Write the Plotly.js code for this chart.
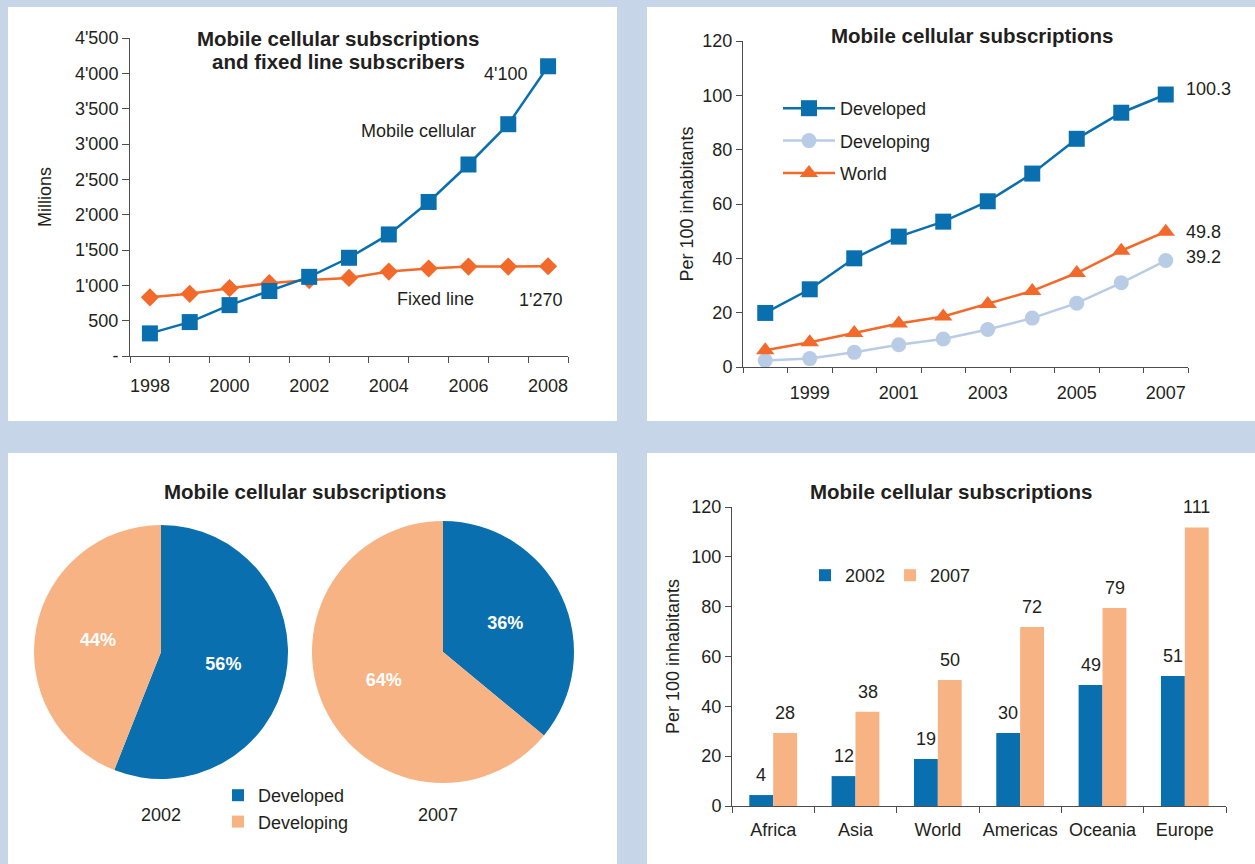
<!DOCTYPE html>
<html>
<head>
<meta charset="utf-8">
<script src="https://cdn.plot.ly/plotly-3.0.1.min.js"></script>
<style>html,body{margin:0;padding:0;background:#c6d6e8;}#chart{width:1255px;height:864px;}</style>
</head>
<body>
<div id="chart"></div>
<script>
// ---- Panel 1: world totals (millions)
const years1 = ['1998','1999','2000','2001','2002','2003','2004','2005','2006','2007','2008'];
const mobileMillions = [320, 480, 720, 920, 1120, 1390, 1720, 2180, 2710, 3280, 4100];
const fixedMillions = [830, 880, 960, 1030, 1075, 1105, 1195, 1238, 1266, 1266, 1270];
const yTicks1 = [0, 500, 1000, 1500, 2000, 2500, 3000, 3500, 4000, 4500];

// ---- Panel 2: per 100 inhabitants
const years2 = ['1998','1999','2000','2001','2002','2003','2004','2005','2006','2007'];
const developed = [19.9, 28.6, 40.0, 48.0, 53.5, 61.0, 71.2, 84.0, 93.6, 100.3];
const developing = [2.4, 3.1, 5.4, 8.2, 10.3, 13.8, 18.0, 23.5, 31.0, 39.2];
const world = [6.2, 9.1, 12.5, 16.0, 18.6, 23.2, 28.0, 34.6, 42.8, 49.8];
const yTicks2 = [0, 20, 40, 60, 80, 100, 120];

// ---- Panel 3: shares
const pieLabels = ['Developed', 'Developing'];
const share2002 = [56, 44];
const share2007 = [36, 64];

// ---- Panel 4: regions
const regions = ['Africa', 'Asia', 'World', 'Americas', 'Oceania', 'Europe'];
const sub2002 = [4.4, 12.0, 18.9, 29.3, 48.6, 52.2];
const sub2007 = [29.3, 37.8, 50.6, 71.8, 79.5, 111.8];
const label2002 = ['4', '12', '19', '30', '49', '51'];
const label2007 = ['28', '38', '50', '72', '79', '111'];

const W = 1255, H = 864;
const px = v => v / W;
const py = v => 1 - v / H;

const BLUE = '#0a6fae', ORANGE = '#f2692a', LIGHT = '#b9cce6', PEACH = '#f8b384';
const TXT = '#231f20', AX = '#4d4d4f';
const FONT = 'Liberation Sans, Arial, Helvetica, sans-serif';
const f18 = {family: FONT, size: 18, color: TXT};

function fmtApos(v) {
  if (v === 0) return '-';
  const s = String(v);
  return s.length > 3 ? s.slice(0, s.length - 3) + "'" + s.slice(s.length - 3) : s;
}

const traces = [
  {type: 'scatter', mode: 'lines+markers', x: years1, y: fixedMillions, xaxis: 'x', yaxis: 'y',
   line: {color: ORANGE, width: 2.5}, marker: {symbol: 'diamond', size: 14, color: ORANGE},
   showlegend: false, hoverinfo: 'skip', cliponaxis: false},
  {type: 'scatter', mode: 'lines+markers', x: years1, y: mobileMillions, xaxis: 'x', yaxis: 'y',
   line: {color: BLUE, width: 2.5}, marker: {symbol: 'square', size: 16, color: BLUE},
   showlegend: false, hoverinfo: 'skip', cliponaxis: false},

  {type: 'scatter', mode: 'lines+markers', name: 'Developed', x: years2, y: developed, xaxis: 'x2', yaxis: 'y2',
   line: {color: BLUE, width: 2.5}, marker: {symbol: 'square', size: 16, color: BLUE},
   legend: 'legend', legendgroup: 'a', hoverinfo: 'skip', cliponaxis: false},
  {type: 'scatter', mode: 'lines+markers', name: 'Developing', x: years2, y: developing, xaxis: 'x2', yaxis: 'y2',
   line: {color: LIGHT, width: 2.5}, marker: {symbol: 'circle', size: 15, color: LIGHT},
   legend: 'legend', legendgroup: 'b', hoverinfo: 'skip', cliponaxis: false},
  {type: 'scatter', mode: 'lines+markers', name: 'World', x: years2, y: world, xaxis: 'x2', yaxis: 'y2',
   line: {color: ORANGE, width: 2.5}, marker: {symbol: 'triangle-up', size: 16, color: ORANGE},
   legend: 'legend', legendgroup: 'c', hoverinfo: 'skip', cliponaxis: false},

  {type: 'pie', labels: pieLabels, values: share2002, sort: false, direction: 'clockwise', rotation: 0,
   domain: {x: [px(34), px(288)], y: [py(782), py(522)]},
   marker: {colors: [BLUE, PEACH], line: {width: 0}}, textinfo: 'percent', textposition: 'inside',
   insidetextorientation: 'horizontal', textfont: {family: FONT, size: 18, color: '#ffffff', weight: 'bold'},
   legend: 'legend2', hoverinfo: 'skip'},
  {type: 'pie', labels: pieLabels, values: share2007, sort: false, direction: 'clockwise', rotation: 0,
   domain: {x: [px(312), px(574)], y: [py(783), py(521)]},
   marker: {colors: [BLUE, PEACH], line: {width: 0}}, textinfo: 'percent', textposition: 'inside',
   insidetextorientation: 'horizontal', textfont: {family: FONT, size: 18, color: '#ffffff', weight: 'bold'},
   legend: 'legend2', showlegend: false, hoverinfo: 'skip'},

  {type: 'bar', name: '2002', x: regions, y: sub2002, xaxis: 'x3', yaxis: 'y3',
   marker: {color: BLUE}, legend: 'legend3', hoverinfo: 'skip'},
  {type: 'bar', name: '2007', x: regions, y: sub2007, xaxis: 'x3', yaxis: 'y3',
   marker: {color: PEACH}, legend: 'legend3', hoverinfo: 'skip'}
];

const axBase = {showline: true, linecolor: AX, linewidth: 1, ticks: 'outside', tickcolor: AX, tickwidth: 1,
  showgrid: false, zeroline: false, tickfont: f18, tickangle: 0, fixedrange: true};

const annotations = [];
function note(text, x, y, opts) {
  annotations.push(Object.assign({text: text, x: px(x), y: py(y), xref: 'paper', yref: 'paper',
    showarrow: false, font: f18, xanchor: 'center', yanchor: 'middle'}, opts || {}));
}
const boldTitle = {family: FONT, size: 20.5, color: TXT, weight: 'bold'};
note('Mobile cellular subscriptions', 338, 38, {font: boldTitle});
note('and fixed line subscribers', 338, 61, {font: boldTitle});
note('Mobile cellular subscriptions', 972, 35, {font: boldTitle});
note('Mobile cellular subscriptions', 305, 491, {font: boldTitle});
note('Mobile cellular subscriptions', 951, 491, {font: boldTitle});
note('Mobile cellular', 418, 131);
note('Fixed line', 435, 299);
note('2002', 161, 815);
note('2007', 438, 815);

// value labels tied to data (category axes addressed by index)
const last1 = years1.length - 1;
annotations.push({xref: 'x', yref: 'y', x: last1, y: mobileMillions[last1], text: fmtApos(mobileMillions[last1]),
  showarrow: false, font: f18, xanchor: 'right', yanchor: 'middle', xshift: -19, yshift: -8});
annotations.push({xref: 'x', yref: 'y', x: last1, y: fixedMillions[last1], text: fmtApos(fixedMillions[last1]),
  showarrow: false, font: f18, xanchor: 'center', yanchor: 'middle', xshift: -8, yshift: -34});
const last2 = years2.length - 1;
[[developed, 6], [world, 0], [developing, 4]].forEach(function (d) {
  annotations.push({xref: 'x2', yref: 'y2', x: last2, y: d[0][last2], text: d[0][last2].toFixed(1),
    showarrow: false, font: f18, xanchor: 'left', yanchor: 'middle', xshift: 18, yshift: d[1]});
});
regions.forEach(function (r, i) {
  annotations.push({xref: 'x3', yref: 'y3', x: i, y: sub2002[i], text: label2002[i], showarrow: false,
    font: f18, xanchor: 'center', yanchor: 'bottom', xshift: -12, yshift: 8});
  annotations.push({xref: 'x3', yref: 'y3', x: i, y: sub2007[i], text: label2007[i], showarrow: false,
    font: f18, xanchor: 'center', yanchor: 'bottom', xshift: 12, yshift: 8});
});

const panel = (x0, y0, x1, y1) => ({type: 'rect', xref: 'paper', yref: 'paper', layer: 'below',
  x0: px(x0), x1: px(x1), y0: py(y1), y1: py(y0), fillcolor: '#ffffff', line: {width: 0}});

const layout = {
  width: W, height: H, margin: {l: 0, r: 0, t: 0, b: 0},
  paper_bgcolor: '#c6d6e8', plot_bgcolor: 'rgba(0,0,0,0)',
  font: f18,
  shapes: [panel(8, 7, 617, 421), panel(647, 7, 1255, 421), panel(8, 453, 617, 864), panel(647, 453, 1255, 864)],
  annotations: annotations,
  xaxis: Object.assign({}, axBase, {domain: [px(130), px(568)], anchor: 'y', type: 'category',
    range: [-0.5, years1.length - 0.5], tickson: 'boundaries', ticklen: 6,
    tickvals: years1, ticktext: years1.map((y, i) => i % 2 === 0 ? y : ''), ticklabelstandoff: 13}),
  yaxis: Object.assign({}, axBase, {domain: [py(356), py(38)], anchor: 'x', range: [0, 4500],
    tickvals: yTicks1, ticktext: yTicks1.map(fmtApos), ticklen: 7,
    title: {text: 'Millions', font: f18, standoff: 18}}),
  xaxis2: Object.assign({}, axBase, {domain: [px(743), px(1188)], anchor: 'y2', type: 'category',
    range: [-0.5, years2.length - 0.5], tickson: 'boundaries', ticklen: 5,
    tickvals: years2, ticktext: years2.map((y, i) => i % 2 === 1 ? y : ''), ticklabelstandoff: 9}),
  yaxis2: Object.assign({}, axBase, {domain: [py(367), py(41)], anchor: 'x2', range: [0, 120],
    tickvals: yTicks2, ticklen: 6, title: {text: 'Per 100 inhabitants', font: f18, standoff: 4}}),
  xaxis3: Object.assign({}, axBase, {domain: [px(732), px(1226)], anchor: 'y3', type: 'category',
    range: [-0.5, regions.length - 0.5], tickson: 'boundaries', ticklen: 6, ticklabelstandoff: 7}),
  yaxis3: Object.assign({}, axBase, {domain: [py(806), py(507)], anchor: 'x3', range: [0, 120],
    tickvals: yTicks2, ticklen: 6, title: {text: 'Per 100 inhabitants', font: f18, standoff: 7}}),
  barmode: 'group', bargap: 0.42, bargroupgap: 0,
  legend: {x: px(778), y: py(90), xanchor: 'left', yanchor: 'top', bgcolor: 'rgba(0,0,0,0)',
    font: f18, tracegroupgap: 6, itemwidth: 52, itemclick: false, itemdoubleclick: false},
  legend2: {x: px(218), y: py(777), xanchor: 'left', yanchor: 'top', bgcolor: 'rgba(0,0,0,0)',
    font: f18, itemclick: false, itemdoubleclick: false},
  legend3: {x: px(805), y: py(557), xanchor: 'left', yanchor: 'top', orientation: 'h', bgcolor: 'rgba(0,0,0,0)',
    font: f18, itemclick: false, itemdoubleclick: false},
  hovermode: false
};

Plotly.newPlot('chart', traces, layout, {displayModeBar: false, staticPlot: true});
</script>
</body>
</html>
